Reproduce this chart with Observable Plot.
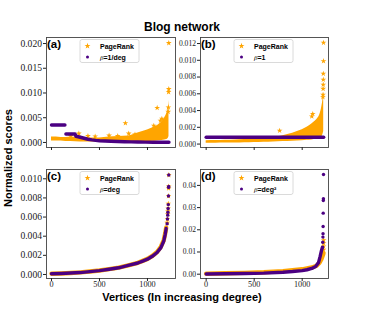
<!DOCTYPE html>
<html><head><meta charset="utf-8">
<script src="https://cdn.jsdelivr.net/npm/d3@7"></script>
<script src="https://cdn.jsdelivr.net/npm/@observablehq/plot@0.6"></script>
<style>
html,body{margin:0;padding:0;background:#fff;}
#wrap{position:relative;width:365px;height:313px;overflow:hidden;background:#fff;}
#wrap svg{position:absolute;left:0;top:0;}
</style></head><body><div id="wrap"></div>
<script>
// ---------- Panel (a): PageRank vs beta = 1/deg ----------
const aPrX    = [0, 50, 100, 150, 200, 300, 400, 500, 600, 700, 800, 900, 950, 1000, 1050, 1100, 1150, 1180, 1200, 1215, 1224];
const aPrLow  = [0.0003,0.0003,0.0003,0.0002,0.0002,0.0001,0.00008,0.00008,0.00008,0.0001,0.00012,0.00015,0.00018,0.0002,0.00025,0.0003,0.0004,0.0005,0.0006,0.0008,0.0012];
const aPrHigh = [0.0011,0.0011,0.0010,0.0010,0.0011,0.0010,0.0009,0.0009,0.0011,0.0012,0.0013,0.0019,0.0022,0.0025,0.0029,0.0034,0.0042,0.0050,0.0058,0.0068,0.0085];
const aStarX  = [200, 285, 380, 455, 600, 690, 770, 805, 870, 1066, 1101, 1135, 1150, 1216, 1218, 1220, 1222, 1222];
const aStarY  = [0.0013,0.0018,0.0013,0.0012,0.0014,0.0013,0.0039,0.0018,0.0016,0.0034,0.0070,0.0044,0.0048,0.0062,0.0071,0.0102,0.0108,0.0201];
const aBetaX  = [0, 35, 70, 105, 140, 145, 150, 180, 215, 245, 255, 290, 320, 350, 380, 420, 460, 500, 560, 620, 690, 760, 830, 900, 980, 1060, 1140, 1224];
const aBetaY  = [0.00354,0.00354,0.00354,0.00354,0.00354,null,0.00172,0.00172,0.00172,0.00172,0.00125,0.0011,0.00095,0.0008,0.00065,0.00052,0.00042,0.00035,0.00028,0.00023,0.00018,0.00014,0.00011,0.00009,0.00007,0.00005,0.00004,0.00003];

// ---------- Panel (b): PageRank vs beta = 1 ----------
const bPrX    = [0,100,200,300,400,500,600,700,800,900,1000,1050,1100,1150,1180,1200,1215,1224];
const bPrHigh = [0.0004,0.00042,0.00045,0.0005,0.00055,0.0006,0.00068,0.0008,0.001,0.0013,0.0017,0.002,0.0024,0.0029,0.0034,0.0042,0.0052,0.0062];
const bPrLow  = [0.0001,0.0001,0.00012,0.00014,0.00017,0.0002,0.00023,0.00026,0.0003,0.00035,0.0004,0.00045,0.0005,0.0006,0.0007,0.0008,0.0011,0.0015];
const bStarX  = [765, 1100, 1110, 1216, 1217, 1218, 1219, 1220, 1220, 1222, 1222];
const bStarY  = [0.0016,0.0033,0.0036,0.0056,0.0059,0.0066,0.0071,0.0077,0.0084,0.0099,0.0121];
const bBetaX  = [0, 1224];
const bBetaY  = [0.00082, 0.00082];

// ---------- Panel (c): PageRank vs beta = deg ----------
const cX      = [0,100,200,300,400,500,600,700,800,900,950,1000,1050,1100,1140,1170,1185,1195];
const cBetaY  = [0.00007,0.0001,0.00015,0.0002,0.0003,0.0004,0.00055,0.0007,0.00095,0.0012,0.0014,0.0016,0.0019,0.0023,0.0028,0.0035,0.0042,0.0048];
const cPrY    = [0.00008,0.00011,0.00016,0.00022,0.00031,0.00042,0.00056,0.00072,0.00096,0.00122,0.00142,0.00163,0.00193,0.00235,0.0029,0.0036,0.0043,0.0049];
const cTopX   = [1205,1208,1211,1213,1215,1217,1219,1220,1221,1222];
const cBetaTopY = [0.0053,0.0058,0.0062,0.0065,0.0069,0.0073,0.0082,0.0091,0.0092,0.0104];
const cPrTopY   = [0.0054,0.0058,0.0063,0.0066,0.0069,0.0074,0.0082,0.0090,0.0092,0.0104];

// ---------- Panel (d): PageRank vs beta = deg^2 ----------
const dX      = [0,200,400,600,800,900,1000,1050,1100,1140,1170,1187,1200,1210];
const dBetaY  = [0.0001,0.0002,0.0003,0.0005,0.0009,0.0012,0.0016,0.002,0.0026,0.0035,0.0052,0.008,0.0105,0.012];
const dBetaTopX = [1213,1214,1216,1217,1218,1219,1220,1221,1222];
const dBetaTopY = [0.0122,0.0144,0.0167,0.0182,0.0215,0.0275,0.0332,0.034,0.0449];
const dPrX    = [0,200,400,600,800,900,1000,1100,1150,1180,1200,1215,1222];
const dPrY    = [0.0002,0.0004,0.0006,0.0009,0.0014,0.0018,0.0022,0.003,0.0038,0.0052,0.0068,0.0085,0.0095];
const dPrTopX = [1222,1223,1223,1224];
const dPrTopY = [0.011,0.0125,0.014,0.0153];

// ---------- ticks & labels ----------
const xTicks  = [0, 500, 1000];
const aYTicks = [0, 0.005, 0.010, 0.015, 0.020];
const bYTicks = [0, 0.002, 0.004, 0.006, 0.008, 0.010, 0.012];
const cYTicks = [0, 0.002, 0.004, 0.006, 0.008, 0.010];
const dYTicks = [0, 0.01, 0.02, 0.03, 0.04];
const title = "Blog network";
const xTitle = "Vertices (In increasing degree)";
const yTitle = "Normalized scores";
const panelNames = ["(a)", "(b)", "(c)", "(d)"];
const betaLabels = ["=1/deg", "=1", "=deg", "=deg²"];

const ORANGE = "#ffa500", PURPLE = "#4b0082";
const wrap = document.getElementById("wrap");

function panel({ml, mr, mt, mb, xDom, yDom, yTicks, yFmt, yFont, xLabels, marks}) {
  const svg = Plot.plot({
    width: 365, height: 313,
    marginLeft: ml, marginRight: mr, marginTop: mt, marginBottom: mb,
    style: {background: "transparent", fontFamily: "'Liberation Serif', serif", color: "#222", overflow: "visible"},
    x: {domain: xDom, label: null},
    y: {domain: yDom, label: null},
    marks: [
      ...marks,
      Plot.frame({stroke: "#444", strokeWidth: 0.9}),
      Plot.axisY({ticks: yTicks, tickFormat: d3.format(yFmt), tickSize: 3, tickPadding: 1.5, fontSize: yFont, label: null}),
      Plot.axisX({ticks: xTicks, tickFormat: xLabels ? d3.format("d") : () => "", tickSize: 3, tickPadding: 0, fontSize: 8.2, label: null})
    ]
  });
  wrap.appendChild(svg);
}

const xDomL = [-52, 1292], xDomR = [-59, 1274];
const STAR_R = 1.8;

panel({ml: 46, mr: 190, mt: 37, mb: 166, xDom: xDomL, yDom: [-0.00102, 0.02122], yTicks: aYTicks, yFmt: ".3f", yFont: 9.6, xLabels: false,
  marks: [
    Plot.areaY(aPrX, {x: aPrX, y1: aPrLow, y2: aPrHigh, fill: ORANGE, curve: "monotone-x"}),
    Plot.dot(aStarX, {x: aStarX, y: aStarY, symbol: "star", fill: ORANGE, r: STAR_R}),
    Plot.line(aBetaX, {x: aBetaX, y: aBetaY, stroke: PURPLE, strokeWidth: 3.4, strokeLinecap: "round"})
  ]});

panel({ml: 200, mr: 37, mt: 37, mb: 166, xDom: xDomR, yDom: [-0.00041, 0.01272], yTicks: bYTicks, yFmt: ".3f", yFont: 7.6, xLabels: false,
  marks: [
    Plot.areaY(bPrX, {x: bPrX, y1: bPrLow, y2: bPrHigh, fill: ORANGE, curve: "monotone-x"}),
    Plot.dot(bStarX, {x: bStarX, y: bStarY, symbol: "star", fill: ORANGE, r: STAR_R}),
    Plot.line(bBetaX, {x: bBetaX, y: bBetaY, stroke: PURPLE, strokeWidth: 3.4, strokeLinecap: "round"})
  ]});

panel({ml: 46, mr: 190, mt: 169, mb: 35, xDom: xDomL, yDom: [-0.00042, 0.01097], yTicks: cYTicks, yFmt: ".3f", yFont: 9.6, xLabels: true,
  marks: [
    Plot.line(cX, {x: cX, y: cPrY, stroke: ORANGE, strokeWidth: 4.4, strokeLinecap: "round"}),
    Plot.dot(cTopX, {x: cTopX, y: cPrTopY, symbol: "star", fill: ORANGE, r: STAR_R}),
    Plot.line(cX, {x: cX, y: cBetaY, stroke: PURPLE, strokeWidth: 3.4, strokeLinecap: "round"}),
    Plot.dot(cTopX, {x: cTopX, y: cBetaTopY, fill: PURPLE, r: 1.7})
  ]});

panel({ml: 200, mr: 37, mt: 169, mb: 35, xDom: xDomR, yDom: [-0.00194, 0.04716], yTicks: dYTicks, yFmt: ".2f", yFont: 7.6, xLabels: true,
  marks: [
    Plot.line(dPrX, {x: dPrX, y: dPrY, stroke: ORANGE, strokeWidth: 4.4, strokeLinecap: "round"}),
    Plot.dot(dPrTopX, {x: dPrTopX, y: dPrTopY, symbol: "star", fill: ORANGE, r: STAR_R}),
    Plot.line(dX, {x: dX, y: dBetaY, stroke: PURPLE, strokeWidth: 3.4, strokeLinecap: "round"}),
    Plot.dot(dBetaTopX, {x: dBetaTopX, y: dBetaTopY, fill: PURPLE, r: 1.7})
  ]});

// ---------- overlay text: titles, panel labels, legends ----------
const ov = d3.select(wrap).append("svg").attr("width", 365).attr("height", 313)
  .style("font-family", "'Liberation Sans', Arial, sans-serif");
ov.append("text").attr("x", 182).attr("y", 30.5).attr("text-anchor", "middle")
  .attr("font-size", 12).attr("font-weight", "bold").text(title);
ov.append("text").attr("x", 182).attr("y", 300.5).attr("text-anchor", "middle")
  .attr("font-size", 11).attr("font-weight", "bold").text(xTitle);
ov.append("text").attr("transform", "translate(12,158) rotate(-90)").attr("text-anchor", "middle")
  .attr("font-size", 11).attr("font-weight", "bold").text(yTitle);

const origins = [[46, 37], [200, 37], [46, 169], [200, 169]];
origins.forEach(([fx, fy], i) => {
  ov.append("text").attr("x", fx + 1).attr("y", fy + 10.5).attr("font-size", 11.5)
    .attr("font-weight", "bold").text(panelNames[i]);
  const lx = fx + 34, ly = fy + 2.5;
  const g = ov.append("g").attr("transform", `translate(${lx},${ly})`);
  g.append("rect").attr("width", 59).attr("height", 23).attr("rx", 2)
    .attr("fill", "white").attr("stroke", "#d0d0d0").attr("stroke-width", 0.8);
  g.append("path").attr("d", d3.symbol(d3.symbolStar, 11)()).attr("transform", "translate(7.5,6.5)").attr("fill", ORANGE);
  g.append("circle").attr("cx", 7.5).attr("cy", 17.5).attr("r", 1.5).attr("fill", PURPLE);
  g.append("text").attr("x", 20).attr("y", 9).attr("font-size", 7).attr("font-weight", "bold").text("PageRank");
  const t = g.append("text").attr("x", 20).attr("y", 20.5).attr("font-size", 7);
  t.append("tspan").attr("font-family", "'Liberation Serif', serif").attr("font-style", "italic").text("β");
  t.append("tspan").attr("font-weight", "bold").text(betaLabels[i]);
});
</script></body></html>
